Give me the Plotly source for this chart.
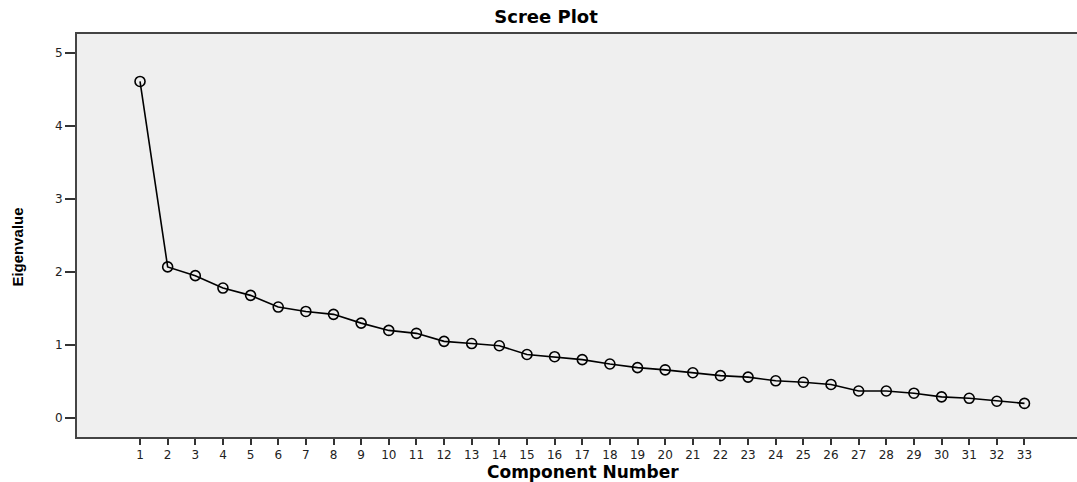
import plotly.graph_objects as go

components = list(range(1, 34))
eigenvalues = [4.61, 2.07, 1.95, 1.78, 1.68, 1.52, 1.46, 1.42, 1.30, 1.20, 1.16,
               1.05, 1.02, 0.99, 0.87, 0.84, 0.80, 0.74, 0.69, 0.66, 0.62, 0.58,
               0.56, 0.51, 0.49, 0.46, 0.37, 0.37, 0.34, 0.29, 0.27, 0.23, 0.20]
y_ticks = [0, 1, 2, 3, 4, 5]

fig = go.Figure()
fig.add_trace(go.Scatter(
    x=components, y=eigenvalues, mode="lines+markers",
    line=dict(color="black", width=1.6),
    marker=dict(symbol="circle-open", size=10, color="black", line=dict(width=1.6)),
    showlegend=False,
))

fig.update_layout(
    width=1077, height=482,
    margin=dict(l=77, r=0, t=34, b=45, autoexpand=False),
    paper_bgcolor="white",
    plot_bgcolor="#efefef",
    font=dict(family="DejaVu Sans, Liberation Sans", size=12, color="#333"),
    title=dict(text="<b>Scree Plot</b>", x=0.507, xanchor="center", y=0.965, yanchor="middle",
               font=dict(size=18, color="black")),
    xaxis=dict(
        range=[-1.28, 34.9], tickmode="array", tickvals=components,
        ticktext=[str(c) for c in components],
        showgrid=False, zeroline=False, automargin=False,
        showline=True, linecolor="#444", linewidth=2, mirror=True,
        ticks="outside", ticklen=6, tickwidth=2, tickcolor="#333",
        tickfont=dict(size=12, color="#222"),
    ),
    yaxis=dict(
        range=[-0.26, 5.26], tickmode="array", tickvals=y_ticks,
        showgrid=False, zeroline=False, automargin=False,
        showline=True, linecolor="#444", linewidth=2,
        ticks="outside", ticklen=10, tickwidth=2, tickcolor="#333",
        tickfont=dict(size=12, color="#222"),
    ),
    annotations=[
        dict(text="<b>Component Number</b>", xref="paper", yref="paper",
             x=0.506, y=-0.087, xanchor="center", yanchor="middle", showarrow=False,
             font=dict(size=17, color="black")),
        dict(text="<b>Eigenvalue</b>", xref="paper", y=0.47, yref="paper",
             x=-0.059, xanchor="center", yanchor="middle", showarrow=False, textangle=-90,
             font=dict(family="Liberation Sans Narrow, Liberation Sans", size=15, color="black")),
    ],
)

fig.write_html(
    "out.html",
    config={"displayModeBar": False},
    post_script="document.body.style.margin='0';document.body.style.overflow='hidden';",
)
